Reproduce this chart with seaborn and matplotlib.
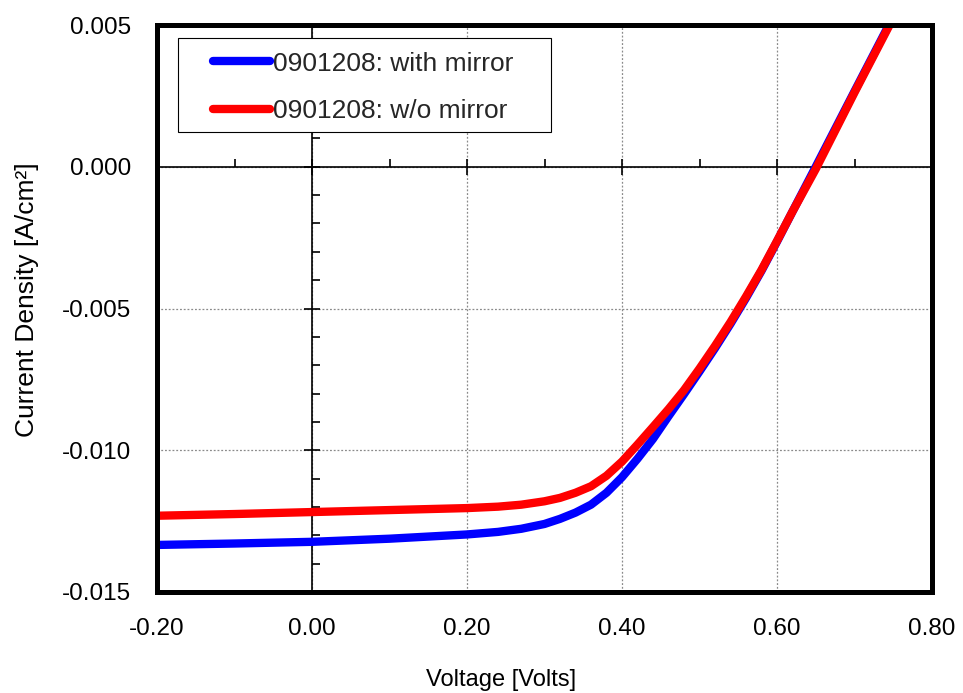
import numpy as np
import pandas as pd
import matplotlib
matplotlib.use("Agg")
import matplotlib.pyplot as plt
import seaborn as sns
from matplotlib.ticker import FixedLocator, MultipleLocator
from matplotlib.patches import Rectangle

# ---------------- data ----------------
series_labels = ["0901208: with mirror", "0901208: w/o mirror"]
series_colors = ["#0000FF", "#FF0000"]

voltage_with = [-0.20, -0.10, 0.00, 0.10, 0.20, 0.24, 0.27, 0.30, 0.32, 0.34, 0.36, 0.38, 0.40,
                0.42, 0.44, 0.46, 0.48, 0.50, 0.52, 0.54, 0.56, 0.58, 0.60, 0.62, 0.65, 0.70, 0.75]
current_with = [-0.01334, -0.01329, -0.01323, -0.01312, -0.01297, -0.01288, -0.01277, -0.01260,
                -0.01242, -0.01220, -0.01192, -0.01150, -0.01095, -0.01030, -0.00960, -0.00880,
                -0.00802, -0.00722, -0.00640, -0.00554, -0.00463, -0.00367, -0.00264, -0.00158,
                0.00000, 0.00266, 0.00530]

voltage_wo = [-0.20, -0.10, 0.00, 0.10, 0.20, 0.24, 0.27, 0.30, 0.32, 0.34, 0.36, 0.38, 0.40,
              0.42, 0.44, 0.46, 0.48, 0.50, 0.52, 0.54, 0.56, 0.58, 0.60, 0.62, 0.65, 0.70, 0.75]
current_wo = [-0.01231, -0.01225, -0.01218, -0.01211, -0.01204, -0.01199, -0.01192, -0.01180,
              -0.01168, -0.01150, -0.01127, -0.01090, -0.01040, -0.00980, -0.00918, -0.00855,
              -0.00788, -0.00712, -0.00632, -0.00548, -0.00458, -0.00364, -0.00262, -0.00158,
              -0.00008, 0.00262, 0.00525]

x_ticks = [-0.2, 0.0, 0.2, 0.4, 0.6, 0.8]
x_tick_labels = ["-0.20", "0.00", "0.20", "0.40", "0.60", "0.80"]
y_ticks = [-0.015, -0.010, -0.005, 0.000, 0.005]
y_tick_labels = ["-0.015", "-0.010", "-0.005", "0.000", "0.005"]

x_label = "Voltage [Volts]"
y_label = "Current Density [A/cm²]"

# ---------------- build frame ----------------
df = pd.concat([
    pd.DataFrame({"Voltage": voltage_with, "Current": current_with, "Series": series_labels[0]}),
    pd.DataFrame({"Voltage": voltage_wo, "Current": current_wo, "Series": series_labels[1]}),
], ignore_index=True)

sns.set_theme(style="white")
plt.rcParams['font.family'] = ['Liberation Sans', 'DejaVu Sans']

fig = plt.figure(figsize=(9.63, 6.93), dpi=100, facecolor="white")
rect = [157 / 963, (693 - 592) / 693, 775 / 963, 567 / 693]
ax_back = fig.add_axes(rect)
ax = fig.add_axes(rect)
ax_back.set_zorder(1)
ax.set_zorder(2)
ax.patch.set_visible(False)

xlim = (-0.2, 0.8)
ylim = (-0.015, 0.005)

# --- back axes: axes crossing at zero, grid ---
ax_back.set_xlim(*xlim)
ax_back.set_ylim(*ylim)
ax_back.patch.set_facecolor("white")
ax_back.spines['left'].set_position(('data', 0))
ax_back.spines['bottom'].set_position(('data', 0))
ax_back.spines['top'].set_visible(False)
ax_back.spines['right'].set_visible(False)
for s in ("left", "bottom"):
    ax_back.spines[s].set_linewidth(1.2)
    ax_back.spines[s].set_color("black")
ax_back.xaxis.set_major_locator(FixedLocator(x_ticks))
ax_back.xaxis.set_minor_locator(MultipleLocator(0.1))
ax_back.yaxis.set_major_locator(FixedLocator(y_ticks))
ax_back.yaxis.set_minor_locator(MultipleLocator(0.001))
ax_back.tick_params(which="major", direction="inout", length=12, width=1.2, color="black",
                    left=True, bottom=True, labelleft=False, labelbottom=False)
ax_back.tick_params(which="minor", direction="in", length=6, width=1.2, color="black",
                    left=True, bottom=True)
ax_back.set_axisbelow(True)
ax_back.grid(True, which="major", color="#8a8a8a", linestyle=(0, (1.5, 1.5)), linewidth=0.9)

# --- front axes: data, frame, labels ---
sns.lineplot(data=df, x="Voltage", y="Current", hue="Series", hue_order=series_labels,
             palette=dict(zip(series_labels, series_colors)), linewidth=6,
             sort=False, estimator=None, errorbar=None, ax=ax,
             solid_joinstyle="round")
ax.set_xlim(*xlim)
ax.set_ylim(*ylim)
ax.set_xticks(x_ticks)
ax.set_xticklabels(x_tick_labels)
ax.set_yticks(y_ticks)
ax.set_yticklabels(y_tick_labels)
ax.tick_params(length=0, pad=18.5, labelsize=17.5, labelcolor="black")
ax.grid(False)
for s in ax.spines.values():
    s.set_visible(True)
    s.set_linewidth(3.6)
    s.set_color("black")

ax.set_xlabel(x_label, fontsize=17, color="black")
ax.set_ylabel(y_label, fontsize=19, color="black")
ax.xaxis.set_label_coords(0.444, -0.155)
ax.xaxis.label.set_va("center")
ax.yaxis.set_label_coords(-0.168, 0.515)
ax.yaxis.label.set_va("center")

# --- legend ---
handles, labels = ax.get_legend_handles_labels()
leg = ax.legend(handles, labels, loc="upper left", bbox_to_anchor=(0.0723, 0.953),
                frameon=False, borderpad=0, borderaxespad=0, handlelength=2.16,
                handletextpad=0.1, labelspacing=0.89, fontsize=19)
leg.set_zorder(6)
for h in leg.legend_handles:
    h.set_linewidth(6)
    h.set_solid_capstyle("round")
ax.add_patch(Rectangle((0.0271, 0.8113), 0.4813, 0.1657, transform=ax.transAxes,
                       facecolor="white", edgecolor="black", linewidth=0.8, zorder=5))

fig.savefig("out.png", dpi=100)
